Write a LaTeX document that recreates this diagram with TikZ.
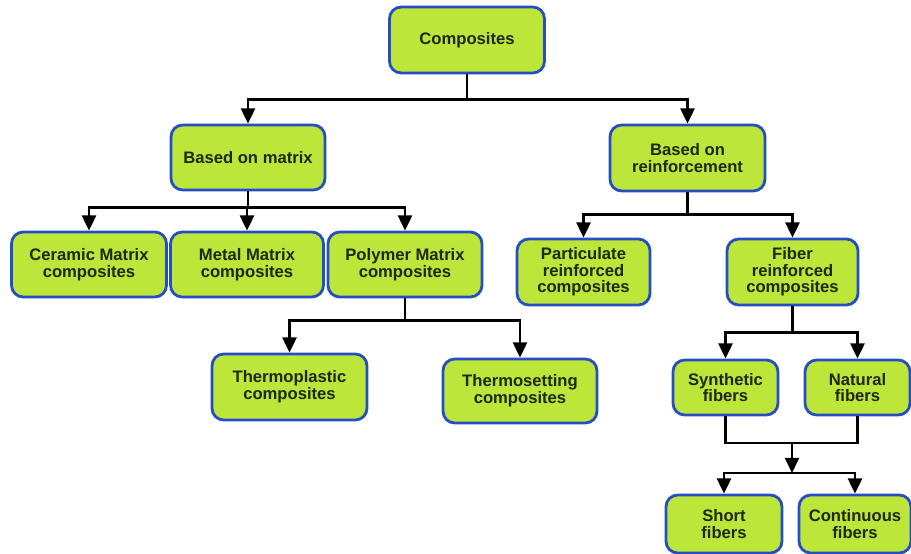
\documentclass[tikz,border=0pt]{standalone}
\usepackage{fontspec}
\setmainfont{Liberation Sans}
\usetikzlibrary{arrows.meta}

\definecolor{boxgreen}{RGB}{188,230,58}
\definecolor{boxblue}{RGB}{38,78,196}
\definecolor{textdark}{RGB}{30,40,10}

\begin{document}
\begin{tikzpicture}[
		x=0.03cm, y=-0.03cm,
		every node/.style={rectangle, rounded corners=10pt, draw=boxblue, line width=2.4pt, fill=boxgreen,
			align=center, inner sep=0pt, text=textdark,
			font=\bfseries\fontsize{14.2}{14.2}\selectfont},
		arr/.style={-{Triangle[width=12pt,length=13pt]}, line width=2.2pt},
		ln/.style={line width=2.2pt}
	]
  \useasboundingbox (0,0) rectangle (911,554);
  \node (comp) [minimum width=4.65cm, minimum height=1.98cm] at (467,40) {Composites};
  \node (b_matrix) [minimum width=4.62cm, minimum height=1.95cm] at (248,157.5) {Based on matrix};
  \node (b_reinf) [minimum width=4.65cm, minimum height=1.98cm] at (687.5,158) {Based on\\reinforcement};
  \node (ceramic) [minimum width=4.65cm, minimum height=1.95cm] at (89,264.5) {Ceramic Matrix\\composites};
  \node (metal) [minimum width=4.59cm, minimum height=1.95cm] at (247,264.5) {Metal Matrix\\composites};
  \node (polymer) [minimum width=4.62cm, minimum height=1.95cm] at (405,264.5) {Polymer Matrix\\composites};
  \node (thermo_p) [minimum width=4.65cm, minimum height=1.98cm] at (289.5,387) {Thermoplastic\\composites};
  \node (thermo_s) [minimum width=4.62cm, minimum height=1.92cm] at (520,391) {Thermosetting\\composites};
  \node (partic) [minimum width=3.99cm, minimum height=1.98cm] at (583.5,272) {Particulate\\reinforced\\composites};
  \node (fiber) [minimum width=3.93cm, minimum height=1.98cm] at (792.5,272) {Fiber\\reinforced\\composites};
  \node (synth) [minimum width=3.15cm, minimum height=1.65cm] at (725.5,387.5) {Synthetic\\fibers};
  \node (natural) [minimum width=3.15cm, minimum height=1.65cm] at (857.5,387.5) {Natural\\fibers};
  \node (short) [minimum width=3.48cm, minimum height=1.74cm] at (724,524) {Short\\fibers};
  \node (cont) [minimum width=3.36cm, minimum height=1.74cm] at (855,524) {Continuous\\fibers};
  \coordinate (join) at (792,443);
  \coordinate (split) at (792,473);
  % top level
  \draw[arr] (comp.south) -- ++(0,25) -| (b_matrix.north);
  \draw[arr] (comp.south) -- ++(0,25) -| (b_reinf.north);
  % matrix branch
  \draw[arr] (b_matrix.south) -- ++(0,16) -| (ceramic.north);
  \draw[arr] (b_matrix.south) -- ++(0,16) -| (metal.north);
  \draw[arr] (b_matrix.south) -- ++(0,16) -| (polymer.north);
  \draw[arr] (polymer.south) -- ++(0,22) -| (thermo_p.north);
  \draw[arr] (polymer.south) -- ++(0,22) -| (thermo_s.north);
  % reinforcement branch
  \draw[arr] (b_reinf.south) -- ++(0,22) -| (partic.north);
  \draw[arr] (b_reinf.south) -- ++(0,22) -| (fiber.north);
  \draw[arr] (fiber.south) -- ++(0,26) -| (synth.north);
  \draw[arr] (fiber.south) -- ++(0,26) -| (natural.north);
  \draw[ln] (synth.south) |- (join) -| (natural.south);
  \draw[arr] (join) -- (split);
  \draw[arr] (split) -| (short.north);
  \draw[arr] (split) -| (cont.north);
\end{tikzpicture}
\end{document}
